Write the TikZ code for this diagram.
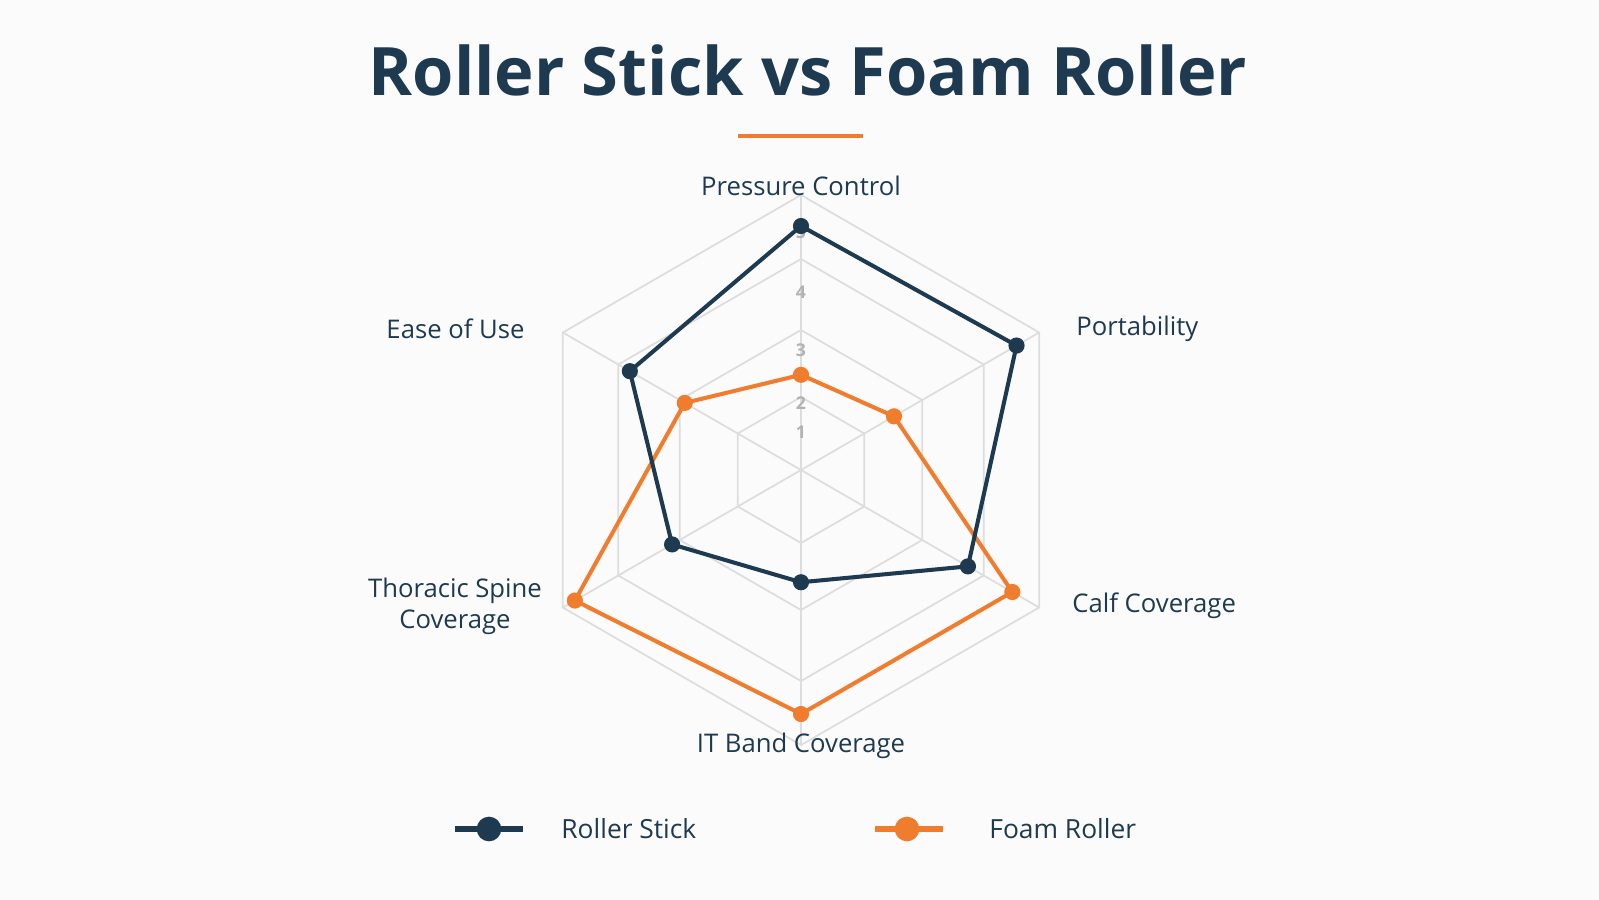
\documentclass[tikz,border=0pt]{standalone}
\usepackage{fontspec}
\usetikzlibrary{calc}
\setmainfont{Open Sans}
\definecolor{navy}{HTML}{1E3A50}
\definecolor{org}{HTML}{F07C2E}
\definecolor{grd}{HTML}{DDDDDD}
\begin{document}
\begin{tikzpicture}[x=0.01cm,y=-0.01cm,
  lab/.style={text=navy,font=\fontsize{7.3}{8.8}\selectfont},
  tick/.style={text=gray!60,font=\fontsize{5}{6}\selectfont\bfseries},
  rs/.style={draw=navy,line width=1.15pt,line join=round},
  fr/.style={draw=org,line width=1.15pt,line join=round},
  rsd/.style={circle,fill=navy,inner sep=0pt,minimum size=4.6pt},
  frd/.style={circle,fill=org,inner sep=0pt,minimum size=4.6pt}]
\fill[white!97!gray] (0,0) rectangle (1599,900);
\useasboundingbox (0,0) rectangle (1599,900);
\node[text=navy,font=\fontsize{19}{22}\selectfont\bfseries] (title) at (808,70) {Roller Stick vs Foam Roller};
\coordinate (ul1) at (738,136); \coordinate (ul2) at (863,136);
\draw[org,line width=1.2pt] (ul1) -- (ul2);
\coordinate (c) at (801,470);
\foreach \r in {73,140,211,275}{
  \draw[grd,line width=0.5pt] ($(c)+(-90:\r)$) -- ($(c)+(-30:\r)$) -- ($(c)+(30:\r)$) -- ($(c)+(90:\r)$) -- ($(c)+(150:\r)$) -- ($(c)+(210:\r)$) -- cycle;
}
\foreach \a in {-90,-30,30,90,150,210}\draw[grd,line width=0.5pt] (c) -- ($(c)+(\a:275)$);
\foreach \v/\y in {1/432,2/403,3/350,4/292,5/232}\node[tick] (t\v) at (801,\y) {\v};
\def\U{48.8}
\foreach \n/\a/\v in {a/-90/5,b/-30/5.1,c/30/3.95,d/90/2.3,e/150/3.05,f/210/4.05}
  \coordinate (r\n) at ($(c)+(\a:\v*\U)$);
\foreach \n/\a/\v in {a/-90/1.95,b/-30/2.2,c/30/5,d/90/5,e/150/5.35,f/210/2.75}
  \coordinate (f\n) at ($(c)+(\a:\v*\U)$);
\draw[fr] (fa)--(fb)--(fc)--(fd)--(fe)--(ff)--cycle;
\draw[rs] (ra)--(rb)--(rc)--(rd)--(re)--(rf)--cycle;
\foreach \n in {a,b,c,d,e,f}{\node[frd] at (f\n){}; \node[rsd] at (r\n){};}
\node[lab] (l1) at (801,186) {Pressure Control};
\node[lab,anchor=west] (l2) at (1064,329) {Portability};
\node[lab,anchor=west] (l3) at (1060,606) {Calf Coverage};
\node[lab] (l4) at (801,746) {IT Band Coverage};
\node[lab,align=center] (l5) at (455,606) {Thoracic Spine\\Coverage};
\node[lab,anchor=east] (l6) at (537,329) {Ease of Use};
\coordinate (g1) at (455,829); \coordinate (g2) at (523,829);
\draw[navy,line width=1.6pt] (g1) -- (g2); \node[rsd,minimum size=7pt] at (489,829){};
\node[lab,anchor=west,font=\fontsize{7.5}{9}\selectfont] (lg1) at (549,829) {Roller Stick};
\coordinate (h1) at (875,829); \coordinate (h2) at (943,829);
\draw[org,line width=1.6pt] (h1) -- (h2); \node[frd,minimum size=7pt] at (907,829){};
\node[lab,anchor=west,font=\fontsize{7.5}{9}\selectfont] (lg2) at (977,829) {Foam Roller};
\end{tikzpicture}
\end{document}
